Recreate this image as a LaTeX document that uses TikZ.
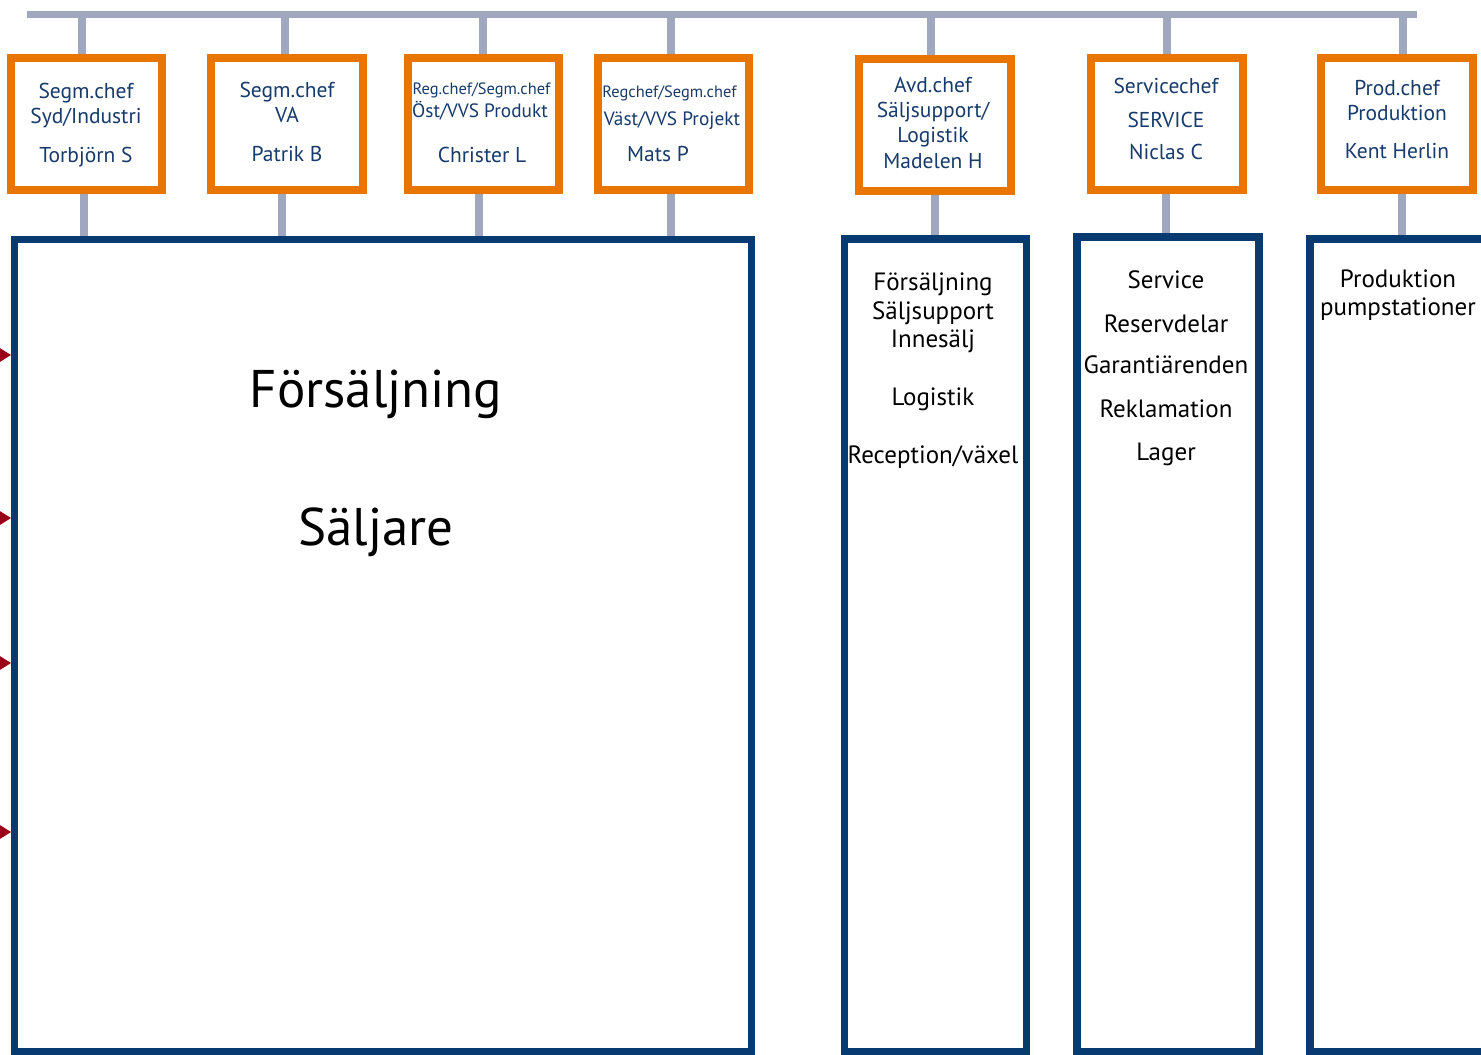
\documentclass[tikz,border=0pt]{standalone}
\usepackage{fontspec}
\setmainfont{PT Sans}
\definecolor{obox}{HTML}{E87500}
\definecolor{bbox}{HTML}{083A72}
\definecolor{conn}{HTML}{A0A8C0}
\definecolor{tblue}{HTML}{173B6C}
\definecolor{arrred}{HTML}{9A0018}
\tikzset{
  x=1pt, y=-1pt,
  obx/.style={draw=obox, line width=8pt, fill=white, rectangle, inner sep=0, outer sep=0.5\pgflinewidth},
  bbx/.style={draw=bbox, line width=7.5pt, rectangle, inner sep=0},
  stem/.style={draw=conn, line width=8pt},
  otxt/.style={text=tblue, font=\fontsize{21.5}{25}\selectfont, anchor=base, inner sep=0},
  osml/.style={text=tblue, font=\fontsize{16.4}{19}\selectfont, anchor=base, inner sep=0},
  omid/.style={text=tblue, font=\fontsize{19.3}{22}\selectfont, anchor=base, inner sep=0},
  btxt/.style={text=black, font=\fontsize{25}{28}\selectfont, anchor=base, inner sep=0},
  bigtxt/.style={text=black, font=\fontsize{53}{60}\selectfont, anchor=base, inner sep=0},
}
\begin{document}
\begin{tikzpicture}
\useasboundingbox (0,0) rectangle (1481,1055);
\clip (0,0) rectangle (1481,1055);
\fill[white] (0,0) rectangle (1481,1055);

% top bar
\coordinate (barL) at (27,14.5);
\coordinate (barR) at (1417,14.5);
\draw[draw=conn, line width=7pt] (barL) -- (barR);

% orange boxes
\node[obx, minimum width=151, minimum height=132] (o1) at (86.5,124) {};
\node[obx, minimum width=152, minimum height=132] (o2) at (287,124) {};
\node[obx, minimum width=151, minimum height=132] (o3) at (483.5,124) {};
\node[obx, minimum width=151, minimum height=132] (o4) at (673.5,124) {};
\node[obx, minimum width=152, minimum height=132] (o5) at (935,125) {};
\node[obx, minimum width=152, minimum height=132] (o6) at (1167,124) {};
\node[obx, minimum width=152, minimum height=132] (o7) at (1397,124) {};

% blue boxes
\node[bbx, minimum width=737, minimum height=812] (b1) at (383,645.5) {};
\node[bbx, minimum width=182, minimum height=812.5] (b5) at (935.5,645.25) {};
\node[bbx, minimum width=182, minimum height=814.5] (b6) at (1168,644.25) {};
\node[bbx, minimum width=190, minimum height=812.5] (b7) at (1405,645.25) {};

% stems from bar
\coordinate (t1) at (82,14.5);
\coordinate (t2) at (285,14.5);
\coordinate (t3) at (483,14.5);
\coordinate (t4) at (671,14.5);
\coordinate (t5) at (931,14.5);
\coordinate (t6) at (1167,14.5);
\coordinate (t7) at (1403,14.5);
\foreach \i in {1,...,7} {\draw[stem] (t\i) -- (t\i |- o\i.north);}

% stems down to blue boxes
\coordinate (s1) at (84,0);
\coordinate (s2) at (282,0);
\coordinate (s3) at (479,0);
\coordinate (s4) at (671,0);
\coordinate (s5) at (935,0);
\coordinate (s6) at (1166,0);
\coordinate (s7) at (1402,0);
\draw[stem] (o1.south -| s1) -- (s1 |- b1.north);
\draw[stem] (o2.south -| s2) -- (s2 |- b1.north);
\draw[stem] (o3.south -| s3) -- (s3 |- b1.north);
\draw[stem] (o4.south -| s4) -- (s4 |- b1.north);
\draw[stem] (o5.south -| s5) -- (s5 |- b5.north);
\draw[stem] (o6.south -| s6) -- (s6 |- b6.north);
\draw[stem] (o7.south -| s7) -- (s7 |- b7.north);
% redraw blue boxes on top of stems
\node[bbx, minimum width=737, minimum height=812] at (b1) {};
\node[bbx, minimum width=182, minimum height=812.5] at (b5) {};
\node[bbx, minimum width=182, minimum height=814.5] at (b6) {};
\node[bbx, minimum width=190, minimum height=812.5] at (b7) {};

% red arrowheads on the left edge
\foreach \yy in {355,518,663,832} {\fill[arrred] (11,\yy) -- (-1,\yy-7.5) -- (-1,\yy+7.5) -- cycle;}

% orange box texts
\node[otxt] (o1a) at (86,98) {Segm.chef};
\node[otxt] (o1b) at (86,123) {Syd/Industri};
\node[otxt] (o1c) at (86,162) {Torbjörn S};
\node[otxt] (o2a) at (287,97) {Segm.chef};
\node[otxt] (o2b) at (287,122) {VA};
\node[otxt] (o2c) at (287,161) {Patrik B};
\node[osml] (o3a) at (481.5,94) {Reg.chef/Segm.chef};
\node[omid] (o3b) at (480,117) {Öst/VVS Produkt};
\node[otxt] (o3c) at (482,162) {Christer L};
\node[osml] (o4a) at (669.5,97) {Regchef/Segm.chef};
\node[omid] (o4b) at (672,125) {Väst/VVS Projekt};
\node[otxt] (o4c) at (658,161) {Mats P};
\node[otxt] (o5a) at (933,92) {Avd.chef};
\node[otxt] (o5b) at (933,117) {Säljsupport/};
\node[otxt] (o5c) at (933,142) {Logistik};
\node[otxt] (o5d) at (933,168) {Madelen H};
\node[otxt] (o6a) at (1166,93) {Servicechef};
\node[otxt] (o6b) at (1166,127) {SERVICE};
\node[otxt] (o6c) at (1166,159) {Niclas C};
\node[otxt] (o7a) at (1397,95) {Prod.chef};
\node[otxt] (o7b) at (1397,120) {Produktion};
\node[otxt] (o7c) at (1397,158) {Kent Herlin};

% blue box texts
\node[bigtxt] (b1a) at (376,407) {Försäljning};
\node[bigtxt] (b1b) at (376,545) {Säljare};
\node[btxt] (b5a) at (933,290) {Försäljning};
\node[btxt] (b5b) at (933,319) {Säljsupport};
\node[btxt] (b5c) at (933,347) {Innesälj};
\node[btxt] (b5d) at (933,405) {Logistik};
\node[btxt] (b5e) at (933,463) {Reception/växel};
\node[btxt] (b6a) at (1166,288) {Service};
\node[btxt] (b6b) at (1166,332) {Reservdelar};
\node[btxt] (b6c) at (1166,373) {Garantiärenden};
\node[btxt] (b6d) at (1166,417) {Reklamation};
\node[btxt] (b6e) at (1166,460) {Lager};
\node[btxt] (b7a) at (1398,287) {Produktion};
\node[btxt] (b7b) at (1398,315) {pumpstationer};
\end{tikzpicture}
\end{document}
